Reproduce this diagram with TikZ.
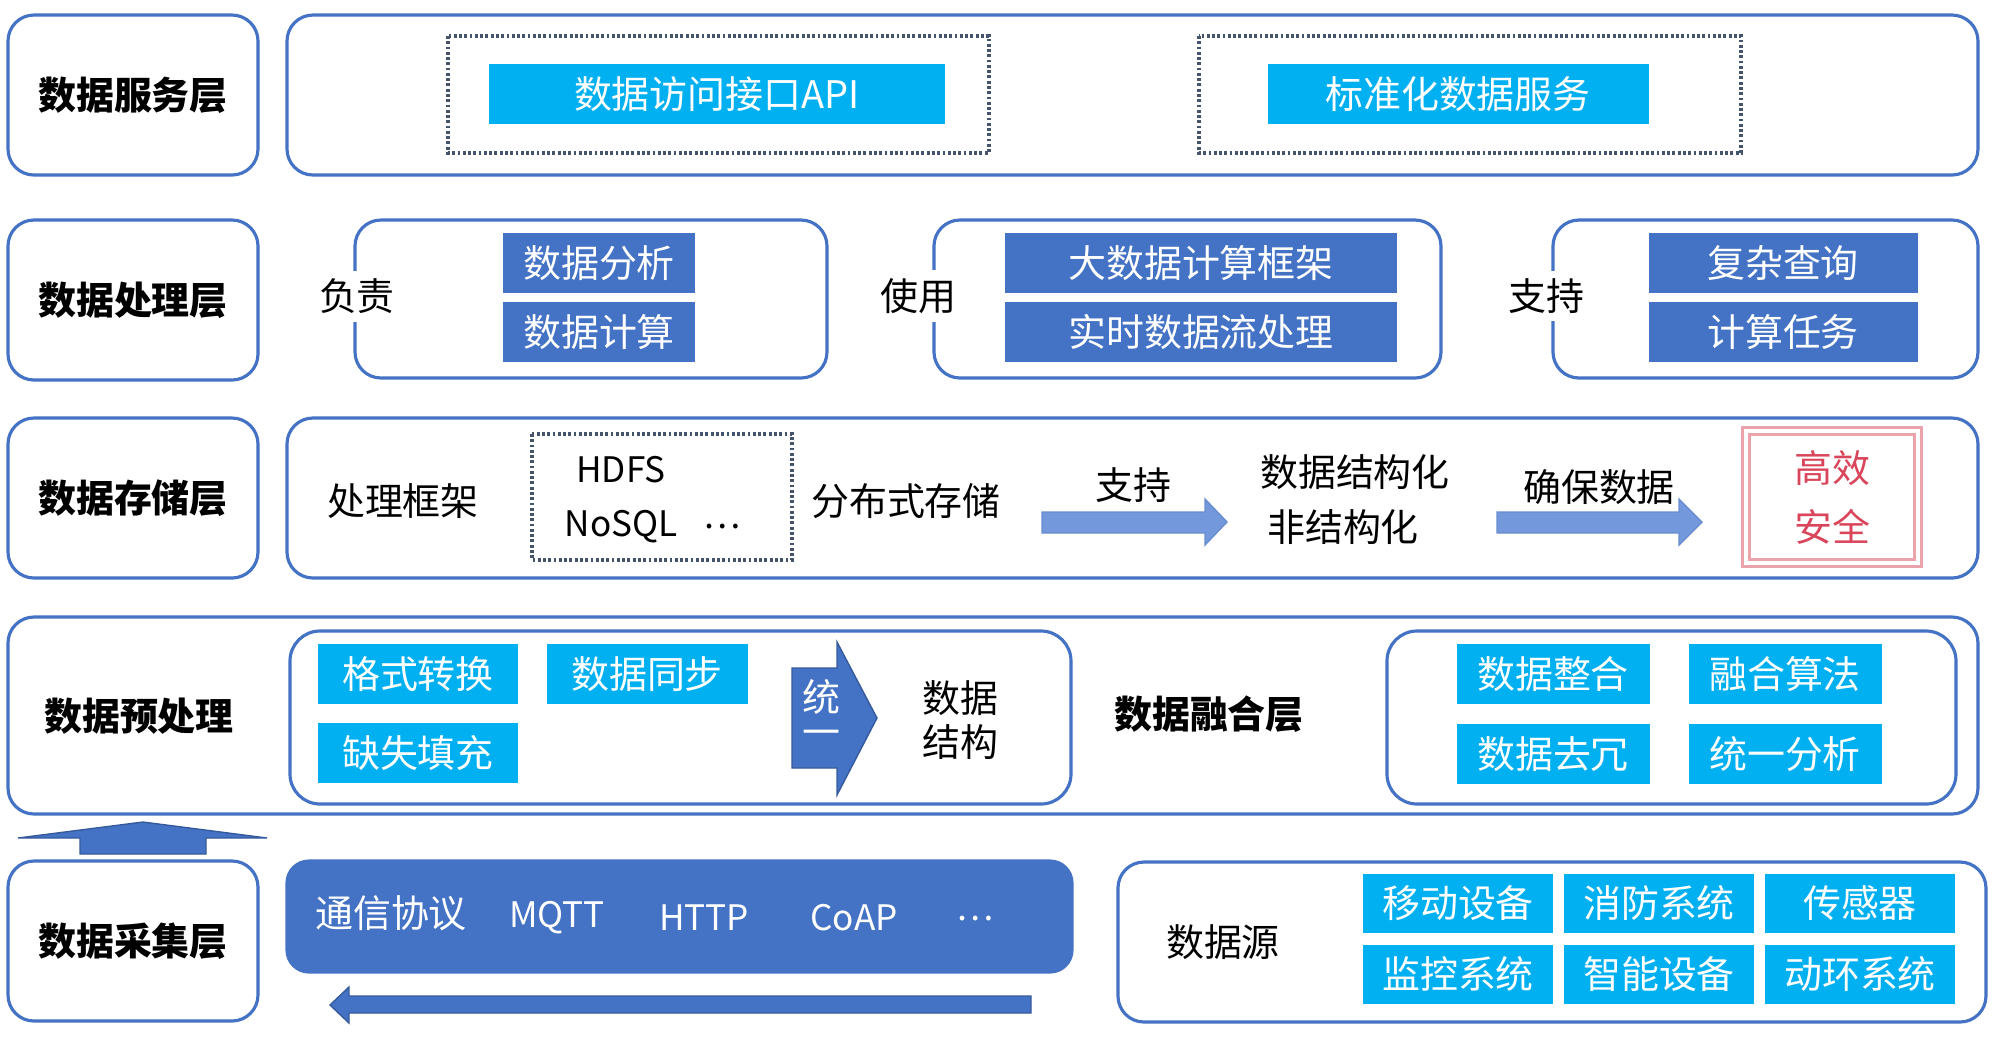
\documentclass[tikz,border=0pt]{standalone}
\usepackage{fontspec}
\setmainfont{Noto Sans CJK SC}
\usepackage{xcolor}
\usepackage{tikz}

\definecolor{lineblue}{HTML}{4472C4}
\definecolor{boxcyan}{HTML}{00B0F0}
\definecolor{boxblue}{HTML}{4472C4}
\definecolor{arrowlight}{HTML}{7398DB}
\definecolor{dotgray}{HTML}{44546A}
\definecolor{safered}{HTML}{D9465C}
\definecolor{safepink}{HTML}{E8A3AC}

\newcommand{\txtsize}{\fontsize{10.8}{13}\selectfont}
\newcommand{\latsize}{\fontsize{10}{12}\selectfont}

\tikzset{
  panel/.style={draw=lineblue, line width=0.9pt, rounded corners=2.6mm},
  dotbox/.style={draw=dotgray, line width=0.9pt, dash pattern=on 0.8pt off 0.7pt},
  cbox/.style={fill=boxcyan, text=white, inner sep=0pt, minimum height=6mm, font=\txtsize},
  bbox/.style={fill=boxblue, text=white, inner sep=0pt, minimum height=6mm, font=\txtsize},
  plain/.style={inner sep=0pt, font=\txtsize},
  layer/.style={inner sep=0pt, font=\txtsize\bfseries},
  edgetext/.style={fill=white, inner sep=0.8mm, font=\txtsize},
  blockarrow/.style={fill=arrowlight, draw=lineblue!80, line width=0.4pt},
  blockdark/.style={fill=boxblue, draw=boxblue!80!black, line width=0.4pt},
  safebox/.style={draw=safepink, double=white, double distance=1.4pt, line width=0.6pt}
}

\begin{document}
\begin{tikzpicture}[x=0.1mm, y=-0.1mm]
    \useasboundingbox (0,0) rectangle (2000,1037);

    % Layer labels (left column)
    \foreach \y/\name/\txt in {15/serv/数据服务层, 220/proc/数据处理层, 418/stor/数据存储层, 861/coll/数据采集层} {
        \draw[panel] (8,\y) rectangle (258,\y+160);
        \node[layer] (lay-\name) at (133,\y+80) {\txt};
    }

    % Data service layer
    \draw[panel] (287,15) rectangle (1978,175);
    \draw[dotbox] (448,36) rectangle (989,153);
    \draw[dotbox] (1199,36) rectangle (1741,153);
    \node[cbox, minimum width=45.6mm] (api) at (717,94) {数据访问接口API};
    \node[cbox, minimum width=38.1mm] (stdsvc) at (1458,94) {标准化数据服务};

    % Data processing layer
    \draw[panel] (355,220) rectangle (827,378);
    \draw[panel] (934,220) rectangle (1441,378);
    \draw[panel] (1553,220) rectangle (1978,378);
    \node[edgetext] (duty) at (357,296) {负责};
    \node[edgetext] (use) at (918,296) {使用};
    \node[edgetext] (supp) at (1546,296) {支持};
    \foreach \x/\w/\name/\ta/\tb in {599/19.2/ana/数据分析/数据计算, 1201/39.2/big/大数据计算框架/实时数据流处理, 1783/26.9/qry/复杂查询/计算任务} {
        \node[bbox, minimum width=\w mm] (\name-1) at (\x,263) {\ta};
        \node[bbox, minimum width=\w mm] (\name-2) at (\x,332) {\tb};
    }

    % Data storage layer
    \draw[panel] (287,418) rectangle (1978,578);
    \draw[dotbox] (532,434) rectangle (792,560);
    \node[plain] (frame) at (403,501) {处理框架};
    \node[plain, font=\latsize] (hdfs) at (621,470) {HDFS};
    \node[plain, font=\latsize] (nosql) at (621,527) {NoSQL};
    \node[plain, font=\latsize] (more) at (722,526) {…};
    \node[plain] (dist) at (906,501) {分布式存储};
    \draw[blockarrow] (1042,512) -- (1205,512) -- (1205,499) -- (1227,522)
        -- (1205,545) -- (1205,533) -- (1042,533) -- cycle;
    \node[plain] (supp2) at (1133,485) {支持};
    \node[plain] (struct) at (1355,472) {数据结构化};
    \node[plain] (unstruct) at (1343,527) {非结构化};
    \draw[blockarrow] (1497,512) -- (1679,512) -- (1679,499) -- (1702,522)
        -- (1679,545) -- (1679,533) -- (1497,533) -- cycle;
    \node[plain] (ensure) at (1599,487) {确保数据};
    \draw[safebox] (1746,431) rectangle (1918,563);
    \node[plain, text=safered] (eff) at (1832,468) {高效};
    \node[plain, text=safered] (safe) at (1832,527) {安全};

    % Preprocessing and fusion layer
    \draw[panel] (8,617) rectangle (1978,814);
    \node[layer] (lay-pre) at (139,716) {数据预处理};
    \draw[panel, rounded corners=3mm] (290,631) rectangle (1071,804);
    \node[cbox, minimum width=20mm] (fmt) at (418,674) {格式转换};
    \node[cbox, minimum width=20.1mm] (sync) at (647,674) {数据同步};
    \node[cbox, minimum width=20mm] (fill) at (418,753) {缺失填充};
    \draw[blockdark] (792,668) -- (837,668) -- (837,642) -- (877,718)
        -- (837,795) -- (837,768) -- (792,768) -- cycle;
    \node[plain, text=white] (uni-1) at (821,697) {统};
    \node[plain, text=white] (uni-2) at (821,738) {一};
    \node[plain] (ds-1) at (960,698) {数据};
    \node[plain] (ds-2) at (960,742) {结构};
    \node[layer] (lay-fus) at (1209,714) {数据融合层};
    \draw[panel, rounded corners=3mm] (1387,631) rectangle (1956,804);
    \foreach \x/\y/\name/\txt in {1553/674/integ/数据整合, 1785/674/algo/融合算法, 1553/754/dedup/数据去冗, 1785/754/unify/统一分析}
        \node[cbox, minimum width=19.3mm] (\name) at (\x,\y) {\txt};

    % Upward arrow
    \draw[blockdark] (80,854) -- (80,838) -- (18,838) -- (143,822)
        -- (267,838) -- (206,838) -- (206,854) -- cycle;

    % Data collection layer
    \draw[panel, fill=boxblue, rounded corners=2.2mm] (287,861) rectangle (1072,972);
    \node[plain, text=white] (proto) at (391,913) {通信协议};
    \foreach \x/\name/\txt in {557/mqtt/MQTT, 704/http/HTTP, 854/coap/CoAP, 975/etc/…}
        \node[plain, font=\latsize, text=white] (\name) at (\x,918) {\txt};
    \draw[blockdark] (1031,996) -- (349,996) -- (349,987) -- (330,1005)
        -- (349,1023) -- (349,1013) -- (1031,1013) -- cycle;

    % Data sources
    \draw[panel] (1118,862) rectangle (1986,1022);
    \node[plain] (src) at (1223,942) {数据源};
    \foreach \x/\y/\name/\txt in {1458/903/mob/移动设备, 1659/903/fire/消防系统, 1860/903/sens/传感器,
                                  1458/974/mon/监控系统, 1659/974/smart/智能设备, 1860/974/env/动环系统}
        \node[cbox, minimum width=19mm, minimum height=5.9mm] (src-\name) at (\x,\y) {\txt};
\end{tikzpicture}
\end{document}
